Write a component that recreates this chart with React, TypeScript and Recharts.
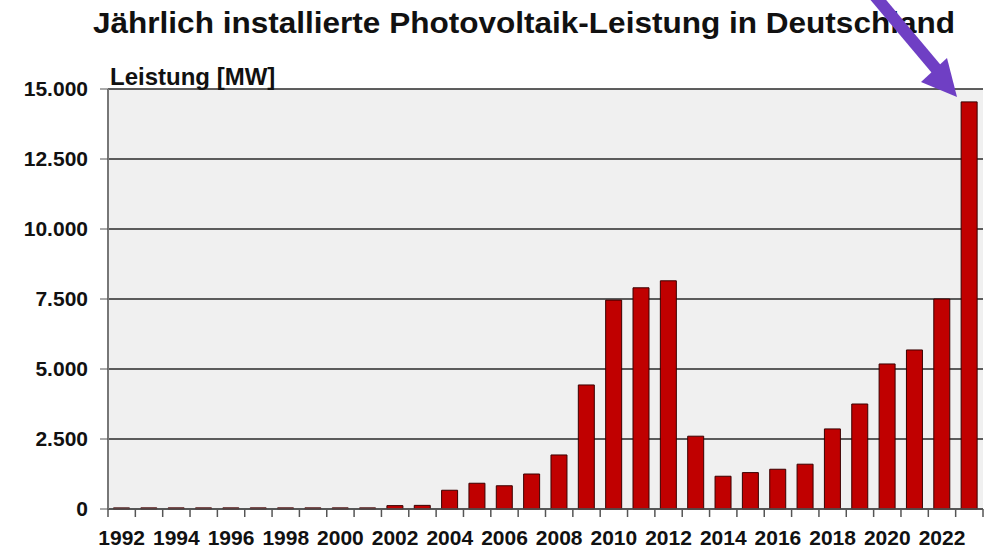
import React from "react";
import { Bar, BarChart, CartesianGrid, XAxis, YAxis } from "recharts";

const years = [
  1992, 1993, 1994, 1995, 1996, 1997, 1998, 1999, 2000, 2001, 2002, 2003, 2004, 2005, 2006, 2007,
  2008, 2009, 2010, 2011, 2012, 2013, 2014, 2015, 2016, 2017, 2018, 2019, 2020, 2021, 2022, 2023,
];
const leistungMW = [
  40, 40, 40, 40, 40, 40, 40, 40, 40, 40, 120, 130, 670, 920, 830, 1250,
  1930, 4430, 7460, 7900, 8150, 2600, 1170, 1300, 1420, 1600, 2860, 3750, 5180, 5680, 7500, 14540,
];
const yTicks = [0, 2500, 5000, 7500, 10000, 12500, 15000];

const data = years.map((year, i) => ({ year, value: leistungMW[i] }));

const W = 986;
const H = 548;
const margin = { top: 89, right: 3, bottom: 0, left: 0 };
const yAxisWidth = 108;
const xAxisHeight = 39;
const band = (W - margin.left - margin.right - yAxisWidth) / years.length;
const font = "'Liberation Sans', Arial, sans-serif";

function formatTick(v: number) {
  return v.toLocaleString("de-DE");
}

// tick marks sit on the category boundaries, labels only on even years
function YearTick(props: any) {
  const { x, y, payload, index } = props;
  const year = Number(payload.value);
  const left = x - band / 2;
  return (
    <g>
      <line x1={left} x2={left} y1={y - 8} y2={y} stroke="#555" strokeWidth={1.5} />
      {index === years.length - 1 ? (
        <line x1={left + band} x2={left + band} y1={y - 8} y2={y} stroke="#555" strokeWidth={1.5} />
      ) : null}
      {year % 2 === 0 ? (
        <text x={x} y={y + 28} textAnchor="middle" fontFamily={font} fontWeight="bold" fontSize={21} fill="#111">
          {year}
        </text>
      ) : null}
    </g>
  );
}

export default function App() {
  return (
    <div style={{ position: "absolute", left: 0, top: 0, width: W, height: H, background: "#fff", overflow: "hidden" }}>
      <BarChart width={W} height={H} data={data} margin={margin} barCategoryGap="20%">
        <CartesianGrid fill="#f0f0f0" stroke="#2a2a2a" vertical={false} strokeWidth={1.3} />
        <XAxis
          dataKey="year"
          height={xAxisHeight}
          interval={0}
          tickLine={false}
          tick={<YearTick />}
          axisLine={{ stroke: "#555", strokeWidth: 1.5 }}
        />
        <YAxis
          width={yAxisWidth}
          domain={[0, 15000]}
          ticks={yTicks}
          tickFormatter={formatTick}
          tickSize={8}
          tickMargin={12}
          tickLine={{ stroke: "#555" }}
          axisLine={{ stroke: "#777", strokeWidth: 2 }}
          tick={{ fontFamily: font, fontWeight: "bold", fontSize: 21, fill: "#111" }}
        />
        <Bar dataKey="value" fill="#c00000" stroke="#3a0000" strokeWidth={1} isAnimationActive={false} />
      </BarChart>
      <svg width={W} height={H} style={{ position: "absolute", left: 0, top: 0, pointerEvents: "none" }}>
        <text
          x={93}
          y={33}
          textLength={862}
          lengthAdjust="spacingAndGlyphs"
          fontFamily={font}
          fontWeight="bold"
          fontSize={30}
          fill="#111"
        >
          Jährlich installierte Photovoltaik-Leistung in Deutschland
        </text>
        <text x={110} y={85} fontFamily={font} fontWeight="bold" fontSize={24} fill="#111">
          Leistung [MW]
        </text>
        <line x1={875} y1={-4} x2={938} y2={71} stroke="#6f3fc4" strokeWidth={12} />
        <polygon points="957,97 921,82 947,58" fill="#6f3fc4" />
      </svg>
    </div>
  );
}
